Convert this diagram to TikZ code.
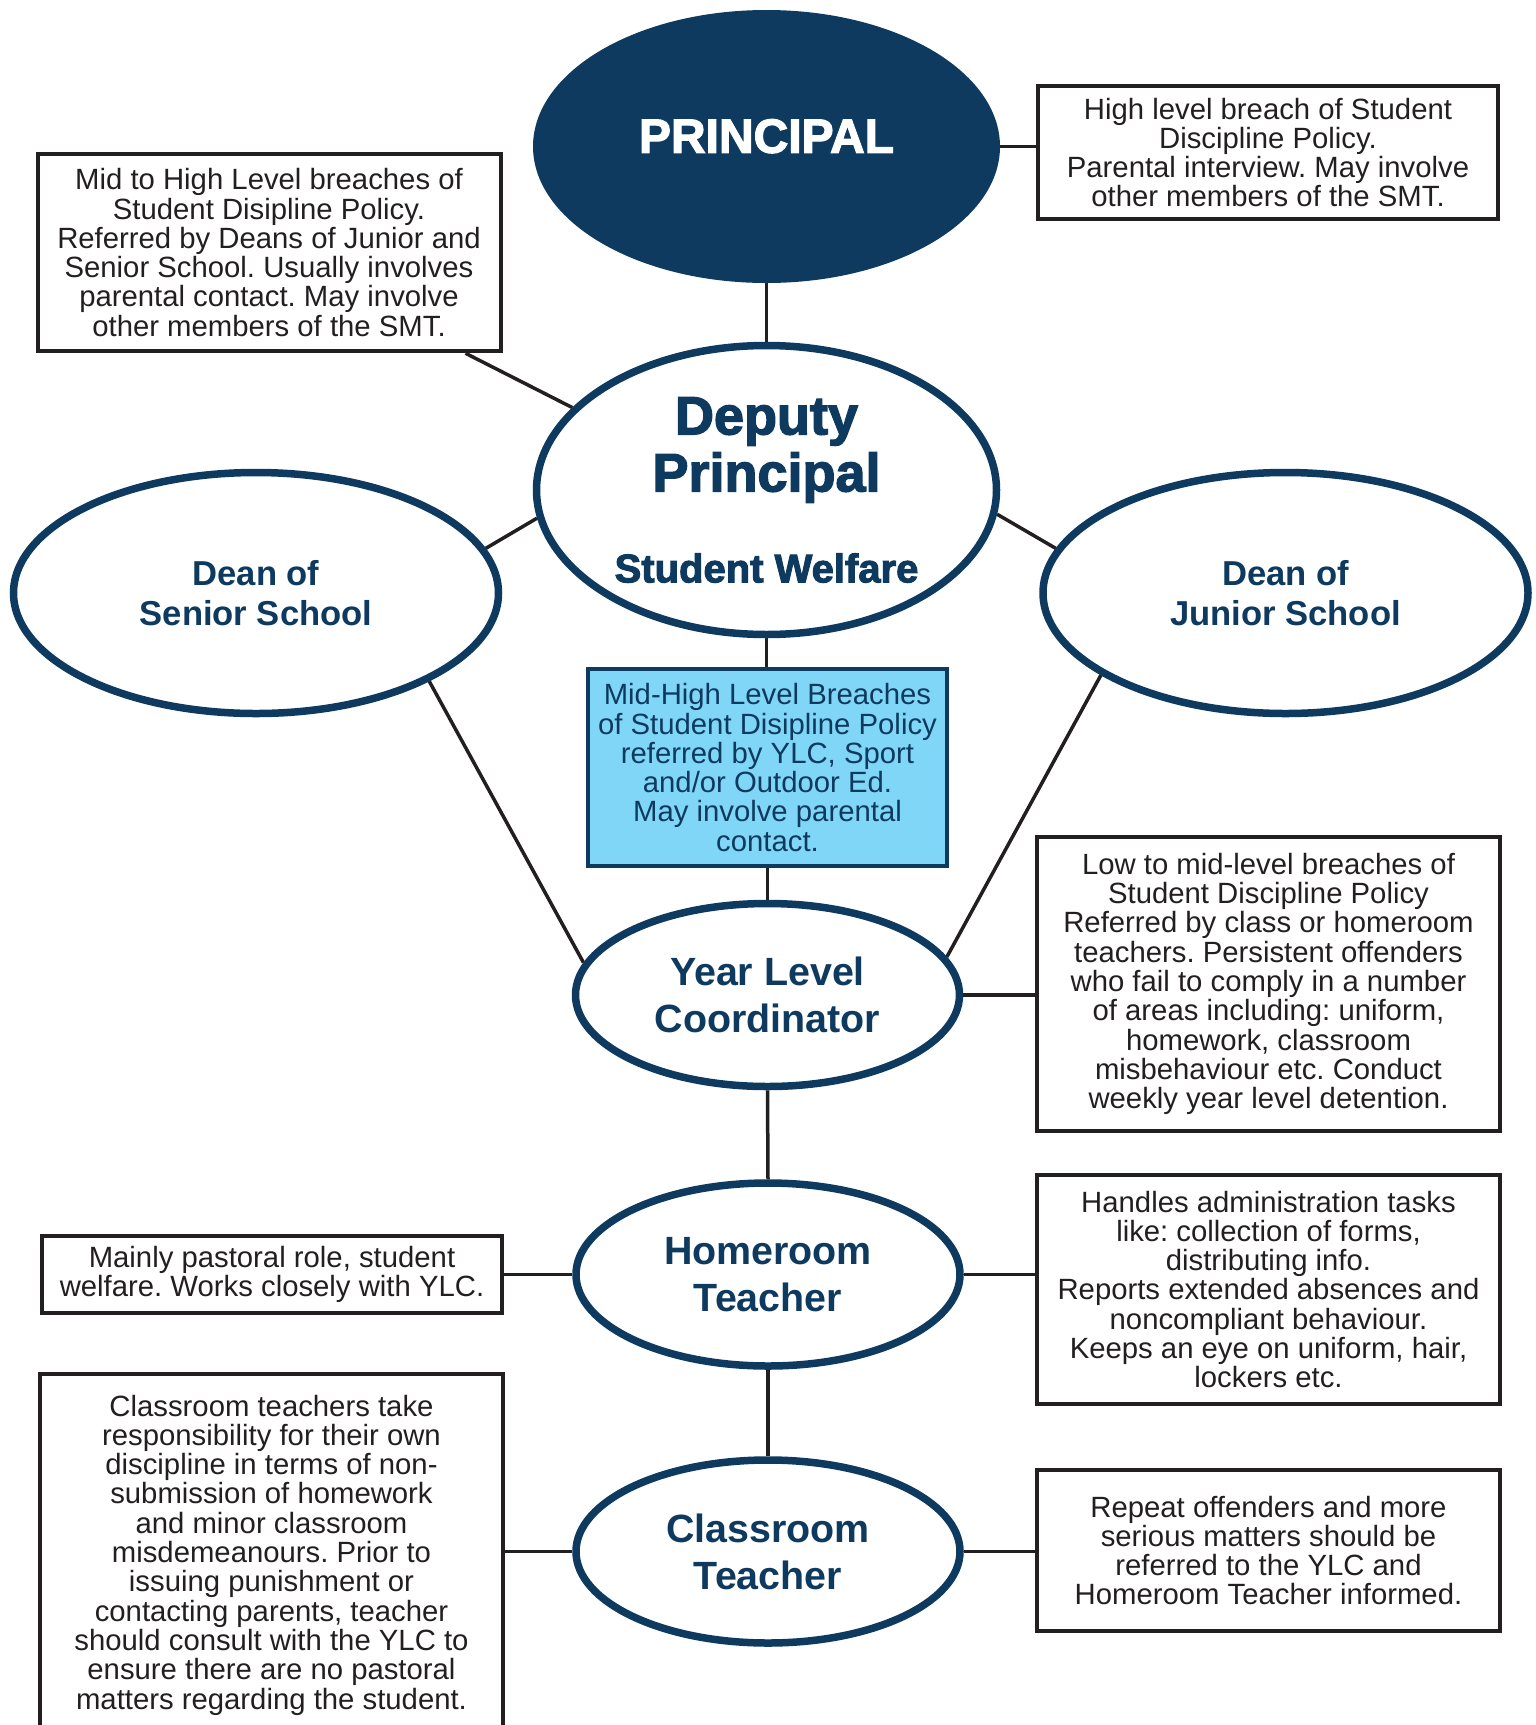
\documentclass[tikz,border=0pt]{standalone}
\usepackage{fontspec}
\setmainfont{Liberation Sans}
\newfontfamily\heavyfont{Liberation Sans}[BoldFeatures={FakeBold=2.5}]
\usetikzlibrary{shapes.geometric,backgrounds}
\frenchspacing

\definecolor{navy}{RGB}{14,58,96}
\definecolor{skyfill}{RGB}{128,214,246}
\definecolor{inkgray}{RGB}{35,31,32}

\begin{document}
\begin{tikzpicture}[x=1pt,y=1pt,yscale=-1,xscale=1,
  role/.style={ellipse, draw=navy, line width=7.5pt, fill=white, text=navy, inner sep=0pt, align=center},
  smallrole/.style={role, minimum width=384pt, minimum height=183pt, font=\bfseries\fontsize{39.4}{47}\selectfont},
  note/.style={rectangle, draw=inkgray, line width=4pt, fill=white, text=inkgray, inner sep=0pt, align=center, font=\fontsize{29.3}{29.3}\selectfont},
  link/.style={draw=inkgray, line width=3.5pt}]
%set diagram left start at 0, and has height of 1725
\useasboundingbox (0,0) rectangle (1535,1725);

% Ellipse Node
\node [ellipse, fill=navy, inner sep=0pt, minimum width=467pt, minimum height=273pt, text=white, text depth=21pt, font=\heavyfont\bfseries\fontsize{48}{48}\selectfont] (principal) at (766.5,146.5) {PRINCIPAL};
% Ellipse Node
\node [role, minimum width=460pt, minimum height=289pt, font=\heavyfont\bfseries\fontsize{54}{57}\selectfont] (deputy) at (766.5,490) {Deputy\\Principal\\[34pt]{\fontsize{40}{40}\selectfont Student Welfare}};
% Ellipse Node
\node [role, minimum width=485pt, minimum height=241pt, font=\bfseries\fontsize{34.6}{39.7}\selectfont] (senior) at (256,593) {Dean of\\Senior School};
% Ellipse Node
\node [role, minimum width=485pt, minimum height=241pt, font=\bfseries\fontsize{34.6}{39.7}\selectfont] (junior) at (1285.5,593) {Dean of\\Junior School};
% Ellipse Node
\node [smallrole] (ylc) at (767.5,995) {Year Level\\Coordinator};
% Ellipse Node
\node [smallrole] (homeroom) at (768,1274.5) {Homeroom\\Teacher};
% Ellipse Node
\node [smallrole] (classroom) at (768,1551.5) {Classroom\\Teacher};

% Text Node
\node [note, minimum width=460.5pt, minimum height=133.5pt] (trbox) at (1268,152.5) {High level breach of Student\\Discipline Policy.\\Parental interview. May involve\\other members of the SMT.};
% Text Node
\node [note, minimum width=463pt, minimum height=197.5pt] (tlbox) at (269,252.5) {Mid to High Level breaches of\\Student Disipline Policy.\\Referred by Deans of Junior and\\Senior School. Usually involves\\parental contact. May involve\\other members of the SMT.};
% Text Node
\node [note, draw=navy, fill=skyfill, text=navy, minimum width=359.5pt, minimum height=197.5pt] (cbox) at (767.5,767.5) {Mid-High Level Breaches\\of Student Disipline Policy\\referred by YLC, Sport\\and/or Outdoor Ed.\\May involve parental\\contact.};
% Text Node
\node [note, minimum width=463.5pt, minimum height=294.5pt] (rbox1) at (1268.5,984) {Low to mid-level breaches of\\Student Discipline Policy\\Referred by class or homeroom\\teachers. Persistent offenders\\who fail to comply in a number\\of areas including: uniform,\\homework, classroom\\misbehaviour etc. Conduct\\weekly year level detention.};
% Text Node
\node [note, minimum width=460.5pt, minimum height=77.5pt] (lbox1) at (272,1274.5) {Mainly pastoral role, student\\welfare. Works closely with YLC.};
% Text Node
\node [note, minimum width=463.5pt, minimum height=229.5pt] (rbox2) at (1268.5,1289.5) {Handles administration tasks\\like: collection of forms,\\distributing info.\\Reports extended absences and\\noncompliant behaviour.\\Keeps an eye on uniform, hair,\\lockers etc.};
% Text Node
\node [note, minimum width=463.5pt, minimum height=362.5pt] (lbox2) at (271.5,1555) {Classroom teachers take\\responsibility for their own\\discipline in terms of non-\\submission of homework\\and minor classroom\\misdemeanours. Prior to\\issuing punishment or\\contacting parents, teacher\\should consult with the YLC to\\ensure there are no pastoral\\matters regarding the student.};
% Text Node
\node [note, minimum width=463.5pt, minimum height=161.5pt] (rbox3) at (1268.5,1550.5) {Repeat offenders and more\\serious matters should be\\referred to the YLC and\\Homeroom Teacher informed.};

% Straight Lines
\begin{scope}[on background layer]
\draw [link] (principal.south) -- (deputy.north);
\draw [link] (principal.east) -- (principal.east -| trbox.west);
\draw [link] ([xshift=-37pt]tlbox.south east) -- (deputy.157);
\draw [link] (deputy.187) -- (senior.11);
\draw [link] (deputy.354) -- (junior.169);
\draw [link] (deputy.south) -- (deputy.south |- cbox.north);
\draw [link] (cbox.south) -- (ylc.north);
\draw [link] (senior.333) -- (ylc.170);
\draw [link] (junior.204) -- (ylc.12);
\draw [link] (ylc.east) -- (ylc.east -| rbox1.west);
\draw [link] (ylc.south) -- (homeroom.north);
\draw [link] (homeroom.west) -- (homeroom.west -| lbox1.east);
\draw [link] (homeroom.east) -- (homeroom.east -| rbox2.west);
\draw [link] (homeroom.south) -- (classroom.north);
\draw [link] (classroom.west) -- (classroom.west -| lbox2.east);
\draw [link] (classroom.east) -- (classroom.east -| rbox3.west);
\end{scope}

\end{tikzpicture}
\end{document}
